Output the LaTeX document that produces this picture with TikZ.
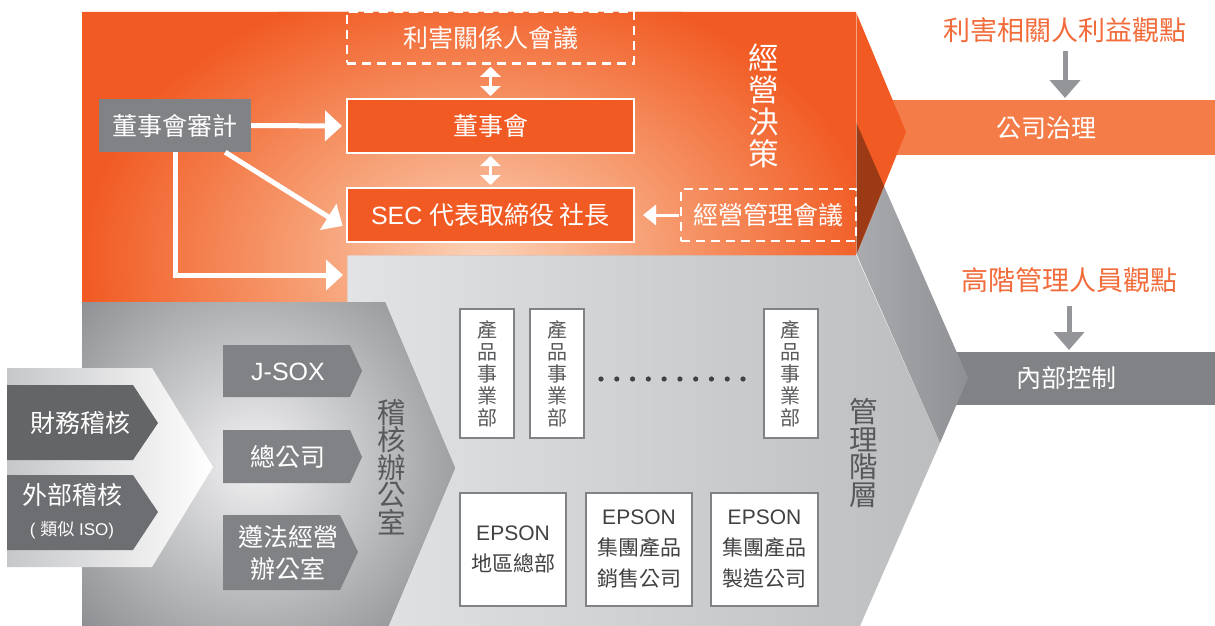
\documentclass[tikz,border=0pt]{standalone}
\usepackage{fontspec}
\setmainfont{Liberation Sans}
\newfontfamily\cjk{Noto Sans CJK TC}
\usetikzlibrary{arrows.meta,calc}
\definecolor{eor}{HTML}{F15A22}
\definecolor{peach}{HTML}{FCD2B6}
\definecolor{peachmid}{HTML}{F69A6E}
\definecolor{baror}{HTML}{F47C48}
\definecolor{titor}{HTML}{F26B3A}
\definecolor{brn}{HTML}{9B3A15}
\definecolor{gmid}{HTML}{808285}
\definecolor{gdark}{HTML}{6D6E71}
\definecolor{gdk2}{HTML}{646567}
\definecolor{garrow}{HTML}{939598}
\definecolor{gtext}{HTML}{58595B}
\definecolor{btext}{HTML}{414042}
\definecolor{glight}{HTML}{E2E3E4}
\definecolor{gright}{HTML}{BBBDBF}
\definecolor{bandl}{HTML}{A9ABAE}
\definecolor{bandr}{HTML}{8E9093}
\definecolor{chev}{HTML}{8D8F92}
\definecolor{chevhi}{HTML}{F2F2F3}
\definecolor{smallc}{HTML}{C6C7C9}
\pgfdeclareradialshading{orglow}{\pgfpoint{0bp}{0bp}}{color(0bp)=(peach); color(12bp)=(peachmid); color(25bp)=(eor); color(50bp)=(eor)}
\tikzset{
  wbox/.style={draw=white, line width=2pt, fill=eor, minimum width=287pt, minimum height=54pt, inner sep=0pt, text=white, font=\fontsize{25}{30}\selectfont},
  dbox/.style={draw=white, line width=2.5pt, dash pattern=on 9pt off 6pt, minimum height=52pt, inner sep=0pt, text=white, font=\cjk\fontsize{25}{30}\selectfont},
  bigarrow/.style={draw=white, line width=5pt, -{Triangle[length=17pt,width=30pt]}},
  dblarrow/.style={draw=white, line width=3pt, {Triangle[length=10pt,width=20pt]}-{Triangle[length=10pt,width=20pt]}},
  smallarrow/.style={draw=white, line width=3pt, -{Triangle[length=13pt,width=20pt]}},
  grayarrow/.style={draw=garrow, line width=5pt, -{Triangle[length=18pt,width=30pt]}},
  divbox/.style={draw=gmid, line width=2pt, fill=white, minimum width=54pt, minimum height=129pt, inner sep=0pt, align=center, text=gtext, font=\cjk\fontsize{20}{22}\selectfont},
  epbox/.style={draw=gmid, line width=2pt, fill=white, minimum height=113pt, inner sep=0pt, align=center, text=btext, font=\fontsize{21}{31}\selectfont},
  vtext/.style={align=center, inner sep=0pt, font=\cjk\fontsize{28.5}{27.5}\selectfont},
  wtext/.style={inner sep=0pt, text=white, font=\cjk\fontsize{25}{30}\selectfont}
}
\begin{document}
\begin{tikzpicture}[x=1pt,y=-1pt]
\useasboundingbox (0,0) rectangle (1215,626);
\clip (0,0) rectangle (1215,626);
\fill[white] (0,0) rectangle (1215,626);

% right bars
\fill[baror] (880,100) rectangle (1215,155);
\fill[gmid] (950,352) rectangle (1215,405);

% dark band of management chevron
\shade[left color=bandl, right color=bandr] (856,122) -- (968,378) -- (940,443) -- (856,253) -- cycle;
% light gray management area
\shade[left color=glight, right color=gright] (347,255) -- (856,255) -- (940,443) -- (860,626) -- (347,626) -- cycle;

% orange area
\begin{scope}
\clip (82,12) -- (856,12) -- (906,132) -- (856,255) -- (347,255) -- (347,302) -- (82,302) -- cycle;
\fill[eor] (0,0) rectangle (1215,626);
\shade[shading=orglow] (480,258) ellipse (400 and 285);
\end{scope}
\begin{scope}
\clip (856,12) -- (906,132) -- (856,255) -- cycle;
\fill[brn] (856,122) -- (968,378) -- (940,443) -- (856,253) -- cycle;
\end{scope}
\draw[white, opacity=0.45, line width=0.8pt] (856,12) -- (856,255);

% audit chevron
\begin{scope}
\clip (82,302) -- (385,302) -- (455,468) -- (385,634) -- (82,634) -- cycle;
\fill[chev] (0,0) rectangle (1215,626);
\shade[inner color=chevhi, outer color=chev] (255,462) circle (240);
\end{scope}
% small left chevron
\shade[left color=smallc, right color=white] (7,368) -- (152,368) -- (213,467) -- (152,567) -- (7,567) -- cycle;

% pentagons
\fill[gdk2] (7,385) -- (133,385) -- (158,423) -- (133,460) -- (7,460) -- cycle;
\fill[gdark] (7,475) -- (133,475) -- (158,512) -- (133,550) -- (7,550) -- cycle;
\fill[gmid] (223,345) -- (350,345) -- (362,371) -- (350,397) -- (223,397) -- cycle;
\fill[gmid] (223,430) -- (350,430) -- (362,457) -- (350,483) -- (223,483) -- cycle;
\fill[gmid] (223,515) -- (340,515) -- (358,552) -- (340,590) -- (223,590) -- cycle;

\node[wtext] (fin) at (80,423) {財務稽核};
\node[wtext] (ext) at (72,495) {外部稽核};
\node[inner sep=0pt, text=white, font=\fontsize{17}{20}\selectfont] (iso) at (72,530) {( {\cjk 類似} ISO)};
\node[inner sep=0pt, text=white, font=\fontsize{25}{30}\selectfont] (jsox) at (288,372) {J-SOX};
\node[wtext] (hq) at (288,457) {總公司};
\node[wtext, align=center, font=\cjk\fontsize{25}{32}\selectfont] (comp) at (288,553) {遵法經營\\辦公室};
\node[vtext, text=gtext] (audoff) at (392,467) {稽\\核\\辦\\公\\室};

% orange area boxes
\node[fill=gmid, minimum width=152pt, minimum height=53pt, inner sep=0pt, text=white, font=\cjk\fontsize{25}{30}\selectfont] (audit) at (175,125.5) {董事會審計};
\node[dbox, minimum width=287pt, text=white!92!peach] (stake) at (490.5,37.5) {利害關係人會議};
\node[wbox, font=\cjk\fontsize{25}{30}\selectfont] (board) at (490.5,126) {董事會};
\node[wbox] (sec) at (490.5,215) {SEC {\cjk 代表取締役 社長}};
\node[dbox, minimum width=175pt] (mmeet) at (768.5,215) {經營管理會議};
\node[vtext, text=white, font=\cjk\fontsize{30.5}{32}\selectfont] (dec) at (764,106) {經\\營\\決\\策};

\coordinate (mgin) at (347,275);
\draw[dblarrow, shorten <=2pt, shorten >=2pt] (stake.south) -- (board.north);
\draw[dblarrow, shorten <=2pt, shorten >=2pt] (board.south) -- (sec.north);
\draw[bigarrow, shorten >=4pt] (audit.east) -- (board.west);
\draw[bigarrow, shorten >=4pt] ([xshift=-26pt]audit.south east) -- ([yshift=-13pt]sec.west);
\draw[bigarrow, shorten >=4pt] (audit.south) |- (mgin);
\draw[smallarrow, shorten >=8pt, shorten <=1pt] (mmeet.west) -- (sec.east);

% management area boxes
\node[divbox] (d1) at (487,373.5) {產\\品\\事\\業\\部};
\node[divbox] (d2) at (557,373.5) {產\\品\\事\\業\\部};
\node[divbox] (d3) at (790.5,373.5) {產\\品\\事\\業\\部};
\foreach \i in {0,...,9} {
  \fill[btext] (601+\i*15.78,379) circle (2.6);
}
\node[epbox, minimum width=106pt] (e1) at (513,549.5) {EPSON\\{\cjk 地區總部}};
\node[epbox, minimum width=106pt] (e2) at (639,549.5) {EPSON\\{\cjk 集團產品}\\{\cjk 銷售公司}};
\node[epbox, minimum width=107pt] (e3) at (764.5,549.5) {EPSON\\{\cjk 集團產品}\\{\cjk 製造公司}};
\node[vtext, text=gtext] (mgl) at (864,453) {管\\理\\階\\層};

% right side
\node[inner sep=0pt, text=titor, font=\cjk\fontsize{27}{30}\selectfont] (t1) at (1065,30) {利害相關人利益觀點};
\node[wtext] (gov) at (1046,128) {公司治理};
\coordinate (govtop) at (1065,100);
\draw[grayarrow, shorten <=8pt, shorten >=2pt] (t1.south) -- (govtop);
\node[inner sep=0pt, text=titor, font=\cjk\fontsize{27}{30}\selectfont] (t2) at (1069,280) {高階管理人員觀點};
\node[wtext] (ic) at (1066,378) {內部控制};
\coordinate (ictop) at (1069,352);
\draw[grayarrow, shorten <=13pt, shorten >=2pt] (t2.south) -- (ictop);
\end{tikzpicture}
\end{document}
